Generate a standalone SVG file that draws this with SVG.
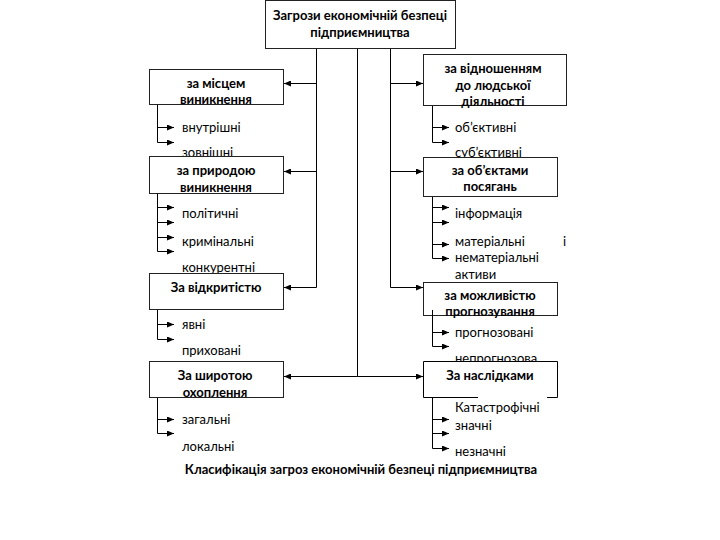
<svg xmlns="http://www.w3.org/2000/svg" width="720" height="540" viewBox="0 0 720 540">
<style>
text{font-family:Lato,"Liberation Sans","Noto Sans",sans-serif;fill:#000}
.b{font-weight:bold;font-size:13px;text-anchor:middle}
.i{font-size:13px}
.box{fill:#fff;stroke:#222;stroke-width:1}
.ln{fill:none;stroke:#000;stroke-width:1}
.ar{fill:none;stroke:#000;stroke-width:1;marker-end:url(#ah)}
.cap{font-weight:bold;font-size:13px;text-anchor:middle}
</style>
<defs>
<marker id="ah" markerUnits="userSpaceOnUse" markerWidth="7" markerHeight="6" refX="7" refY="3" orient="auto">
<path d="M0,0 L7,3 L0,6 z" fill="#000"/>
</marker>
</defs>
<rect width="720" height="540" fill="#fff"/>

<g id="items-left1"><text class="i" x="182" y="132">внутрішні</text><text class="i" x="182" y="157">зовнішні</text></g>
<g id="items-left2"><text class="i" x="182" y="218">політичні</text><text class="i" x="182" y="246">кримінальні</text><text class="i" x="182" y="272">конкурентні</text></g>
<g id="items-left3"><text class="i" x="182" y="329">явні</text><text class="i" x="182" y="355">приховані</text></g>
<g id="items-left4"><text class="i" x="182" y="424">загальні</text><text class="i" x="182" y="451">локальні</text></g>
<g id="items-right1"><text class="i" x="455" y="132">об’єктивні</text><text class="i" x="455" y="157">суб’єктивні</text></g>
<g id="items-right2"><text class="i" x="455" y="218">інформація</text><text class="i" x="455" y="246">матеріальні</text><text class="i" x="563" y="246">і</text><text class="i" x="455" y="262">нематеріальні</text><text class="i" x="455" y="279">активи</text></g>
<g id="items-right3"><text class="i" x="455" y="337">прогнозовані</text><text class="i" x="455" y="363">непрогнозова</text></g>
<g id="items-right4"><text class="i" x="455" y="412">Катастрофічні</text><text class="i" x="455" y="430">значні</text><text class="i" x="455" y="456">незначні</text></g>

<g id="root"><rect class="box" x="265.5" y="0.5" width="190" height="48"/><text class="b" x="360" y="20">Загрози економічній безпеці</text><text class="b" x="360" y="37">підприємництва</text></g>
<g id="left1"><rect class="box" x="149.5" y="69.5" width="134" height="35"/><text class="b" x="216" y="88">за місцем</text><text class="b" x="216" y="104">виникнення</text></g>
<g id="left2"><rect class="box" x="149.5" y="156.5" width="134" height="37"/><text class="b" x="216" y="175">за природою</text><text class="b" x="216" y="192">виникнення</text></g>
<g id="left3"><rect class="box" x="149.5" y="273.5" width="134" height="36"/><text class="b" x="216" y="292">За відкритістю</text></g>
<g id="left4"><rect class="box" x="149.5" y="361.5" width="134" height="36"/><text class="b" x="215" y="380">За широтою</text><text class="b" x="215" y="397">охоплення</text></g>
<g id="right1"><rect class="box" x="423.5" y="54.5" width="143" height="51"/><text class="b" x="493" y="73">за відношенням</text><text class="b" x="493" y="90">до людської</text><text class="b" x="493" y="106">діяльності</text></g>
<g id="right2"><rect class="box" x="423.5" y="157.5" width="134" height="39"/><text class="b" x="490" y="175">за об’єктами</text><text class="b" x="490" y="191">посягань</text></g>
<g id="right3"><rect class="box" x="423.5" y="282.5" width="134" height="33"/><text class="b" x="490" y="300">за можливістю</text><text class="b" x="490" y="316">прогнозування</text></g>
<g id="right4"><rect x="423.5" y="361.5" width="134" height="36" fill="#fff"/><path class="ln" d="M478,397.5 H423.5 V361.5 H557.5 V397.5 H547" stroke="#222"/><text class="b" x="490" y="380">За наслідками</text></g>

<g id="connectors">
<path class="ln" d="M316.5,49 V287.5 M357.5,49 V376.5 M390.5,49 V287.5"/>
<path class="ar" d="M316.5,83.5 H284"/>
<path class="ar" d="M316.5,171.5 H284"/>
<path class="ar" d="M316.5,287.5 H284"/>
<path class="ar" d="M357.5,376.5 H284"/>
<path class="ar" d="M390.5,83.5 H423"/>
<path class="ar" d="M390.5,171.5 H423"/>
<path class="ar" d="M390.5,287.5 H423"/>
<path class="ar" d="M357.5,376.5 H423"/>

<path class="ln" d="M157.5,105 V142.5"/>
<path class="ar" d="M157.5,127.5 H174"/><path class="ar" d="M157.5,142.5 H174"/>
<path class="ln" d="M157.5,194 V251.5"/>
<path class="ar" d="M157.5,207.5 H174"/><path class="ar" d="M157.5,222.5 H174"/><path class="ar" d="M157.5,237.5 H174"/><path class="ar" d="M157.5,251.5 H174"/>
<path class="ln" d="M157.5,310 V339.5"/>
<path class="ar" d="M157.5,324.5 H174"/><path class="ar" d="M157.5,339.5 H174"/>
<path class="ln" d="M157.5,398 V433.5"/>
<path class="ar" d="M157.5,419.5 H174"/><path class="ar" d="M157.5,433.5 H174"/>

<path class="ln" d="M432.5,106 V142.5"/>
<path class="ar" d="M432.5,127.5 H449"/><path class="ar" d="M432.5,142.5 H449"/>
<path class="ln" d="M432.5,197 V258.5"/>
<path class="ar" d="M432.5,207.5 H449"/><path class="ar" d="M432.5,222.5 H449"/><path class="ar" d="M432.5,244.5 H449"/><path class="ar" d="M432.5,258.5 H449"/>
<path class="ln" d="M432.5,310 V346.5"/>
<path class="ar" d="M432.5,332.5 H449"/><path class="ar" d="M432.5,346.5 H449"/>
<path class="ln" d="M432.5,398 V448.5"/>
<path class="ar" d="M432.5,419.5 H449"/><path class="ar" d="M432.5,433.5 H449"/><path class="ar" d="M432.5,448.5 H449"/>
</g>

<text class="cap" x="361" y="474">Класифікація загроз економічній безпеці підприємництва</text>
</svg>
